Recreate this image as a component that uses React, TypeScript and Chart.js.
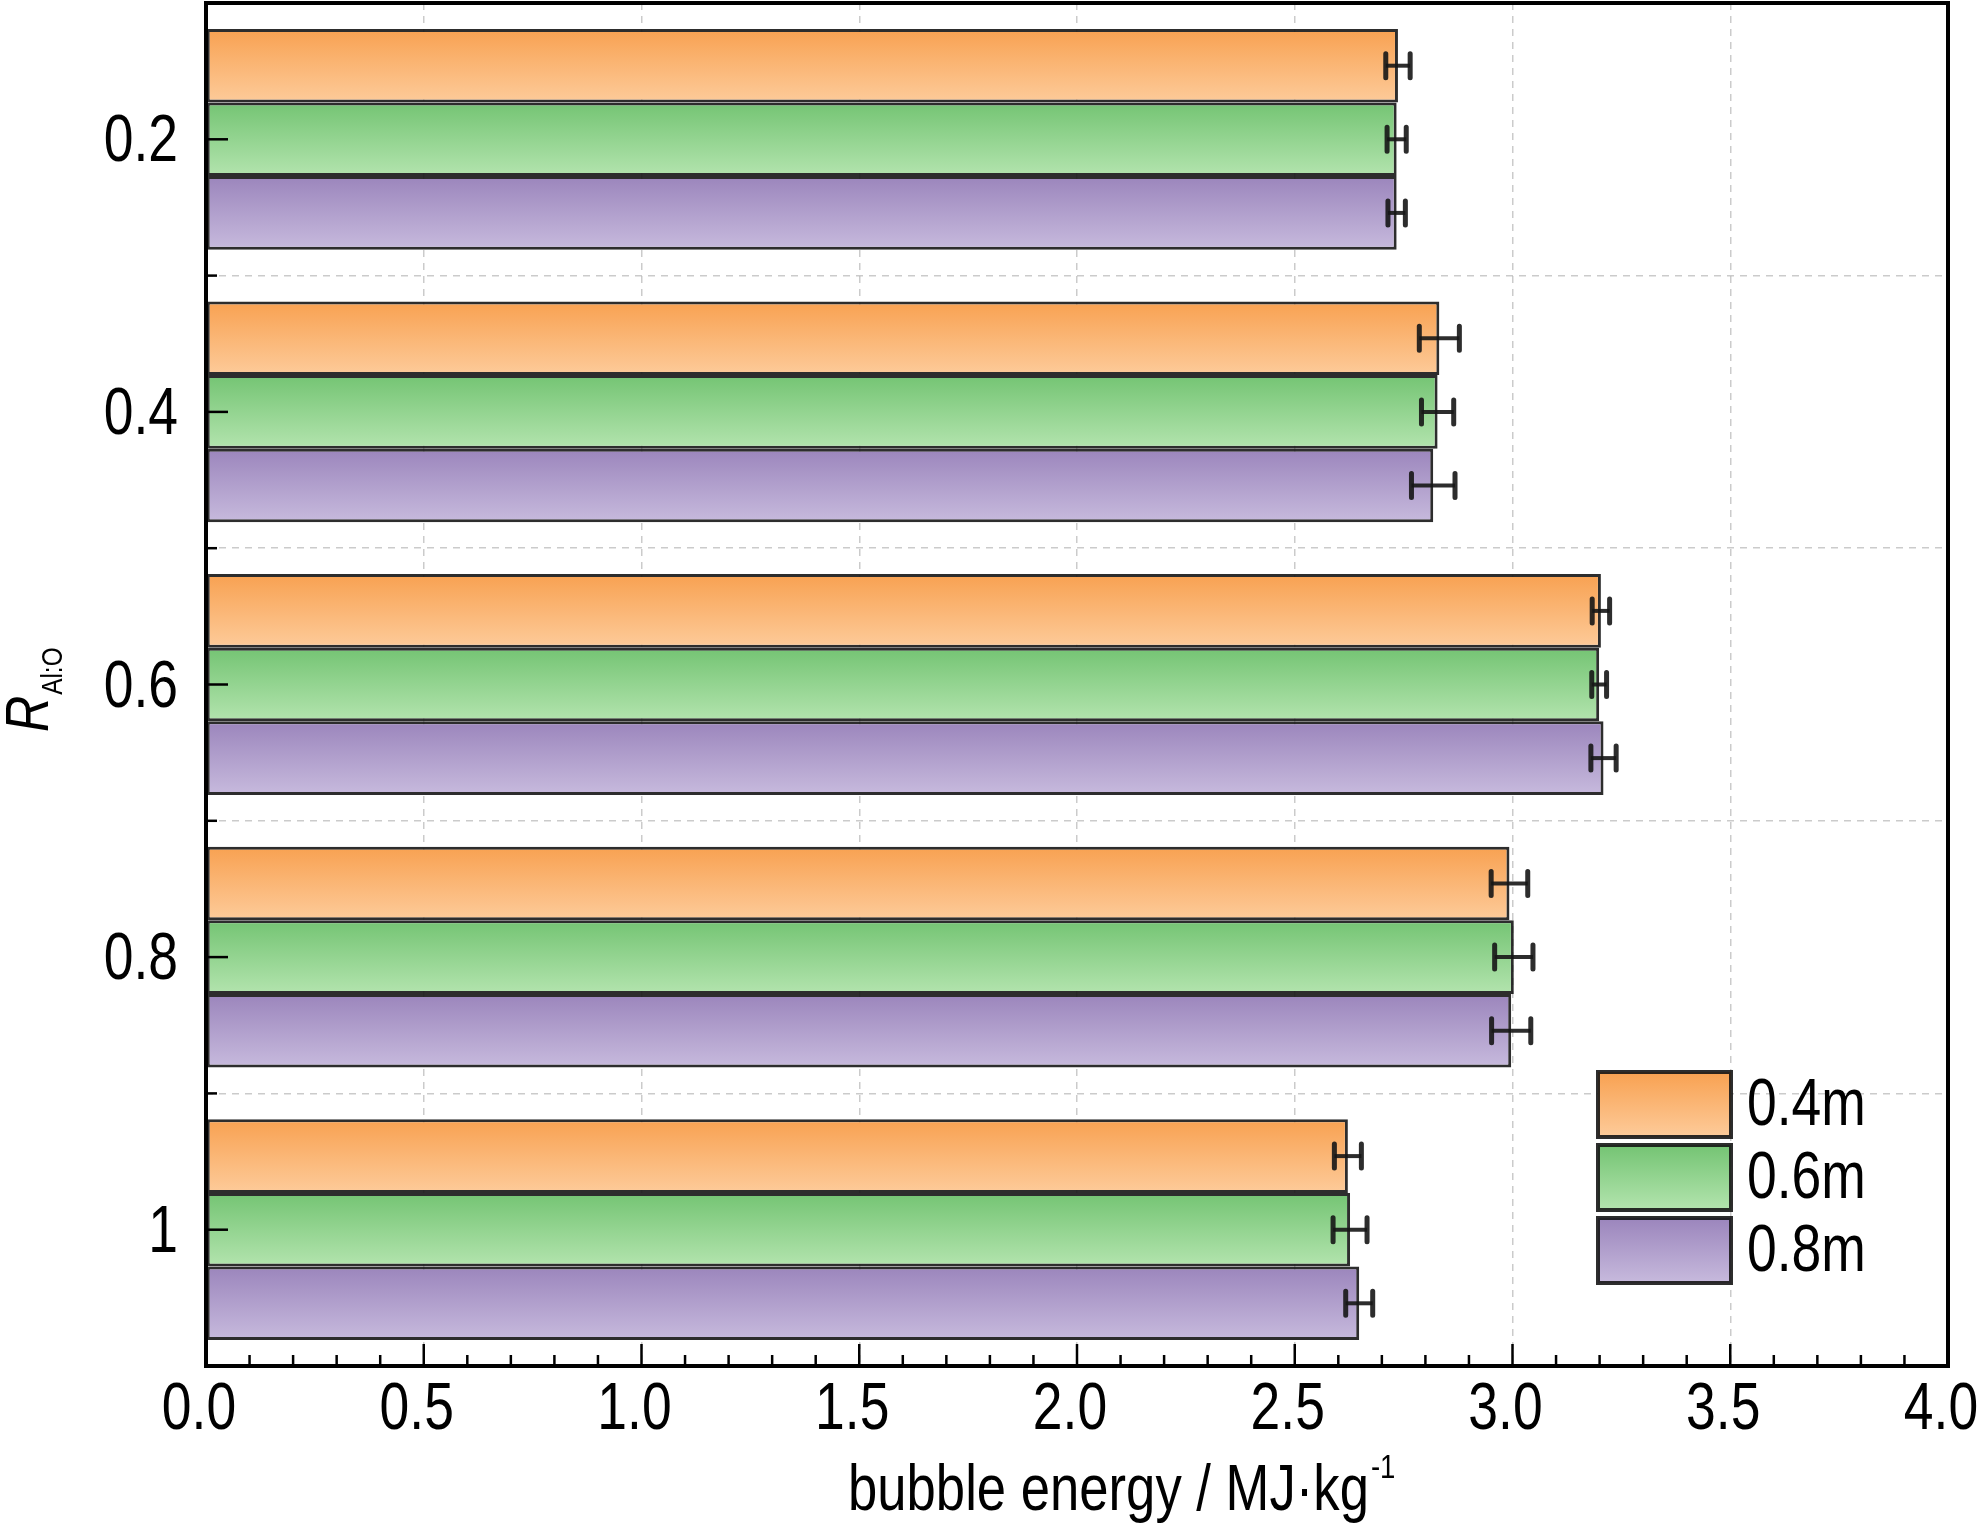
import React, { useEffect, useRef } from "react"
import { Chart, registerables } from "chart.js"

Chart.register(...registerables)

// R(Al:O) categories, top to bottom
const categories = ["0.2", "0.4", "0.6", "0.8", "1"]
const seriesLabels = ["0.4m", "0.6m", "0.8m"]

// bubble energy, MJ/kg
const energy04 = [2.737, 2.832, 3.203, 2.993, 2.622]
const energy06 = [2.734, 2.828, 3.199, 3.003, 2.627]
const energy08 = [2.734, 2.818, 3.209, 2.997, 2.648]

// error bar half widths
const err04 = [0.028, 0.046, 0.02, 0.042, 0.031]
const err06 = [0.022, 0.037, 0.017, 0.044, 0.039]
const err08 = [0.02, 0.05, 0.029, 0.045, 0.031]

const xTicks = [0, 0.5, 1, 1.5, 2, 2.5, 3, 3.5, 4]

const gradTop = ["#F8A151", "#74C473", "#9B85BC"]
const gradBottom = ["#FDCB9A", "#B3E4AE", "#C7BADD"]

const FAMILY = '"Liberation Sans", Arial, sans-serif'
const NARROW = 0.81 // fake Arial Narrow by squeezing Liberation Sans
const edge = "rgba(22,22,22,0.9)"

const makeGrad = (ctx: CanvasRenderingContext2D, top: number, bottom: number, i: number) => {
  const g = ctx.createLinearGradient(0, top, 0, bottom)
  g.addColorStop(0, gradTop[i])
  g.addColorStop(1, gradBottom[i])
  return g
}

const barFill = (i: number) => (c: any) => {
  const el = c.element as any
  if (!el || el.height == null || !isFinite(el.y) || !isFinite(el.height)) return gradTop[i]
  return makeGrad(c.chart.ctx, el.y - el.height / 2, el.y + el.height / 2, i)
}

// narrow text helper
const text = (
  ctx: CanvasRenderingContext2D,
  s: string,
  x: number,
  y: number,
  size: number,
  align: CanvasTextAlign = "left",
  style = "",
) => {
  ctx.save()
  ctx.translate(x, y)
  ctx.scale(NARROW, 1)
  ctx.font = `${style}${size}px ${FAMILY}`
  ctx.textAlign = align
  ctx.textBaseline = "alphabetic"
  ctx.fillStyle = "#000"
  ctx.fillText(s, 0, 0)
  const w = ctx.measureText(s).width * NARROW
  ctx.restore()
  return w
}

const errorBars = {
  id: "errorBars",
  afterDatasetsDraw(chart: any) {
    const { ctx } = chart
    const xs = chart.scales.x
    const errs = [err04, err06, err08]
    ctx.save()
    ctx.strokeStyle = edge
    chart.data.datasets.forEach((ds: any, i: number) => {
      const meta = chart.getDatasetMeta(i)
      meta.data.forEach((el: any, j: number) => {
        const v = ds.data[j]
        const x1 = xs.getPixelForValue(v - errs[i][j])
        const x2 = xs.getPixelForValue(v + errs[i][j])
        const y = el.y
        ctx.lineWidth = 4
        ctx.beginPath()
        ctx.moveTo(x1, y)
        ctx.lineTo(x2, y)
        ctx.stroke()
        ctx.lineWidth = 5
        ctx.lineCap = "round"
        ctx.beginPath()
        ctx.moveTo(x1, y - 12)
        ctx.lineTo(x1, y + 12)
        ctx.moveTo(x2, y - 12)
        ctx.lineTo(x2, y + 12)
        ctx.stroke()
        ctx.lineCap = "butt"
      })
    })
    ctx.restore()
  },
}

const decorations = {
  id: "decorations",
  afterDraw(chart: any) {
    const { ctx, chartArea: a } = chart
    const xs = chart.scales.x
    const ys = chart.scales.y
    ctx.save()
    ctx.strokeStyle = "#000"
    ctx.lineWidth = 2.5

    // inward ticks on x axis
    for (let k = 0; k <= 40; k++) {
      const x = xs.getPixelForValue(k / 10)
      const len = k % 5 === 0 ? 22 : 11
      ctx.beginPath()
      ctx.moveTo(x, a.bottom)
      ctx.lineTo(x, a.bottom - len)
      ctx.stroke()
    }
    // inward ticks on y axis
    categories.forEach((_, j) => {
      const y = ys.getPixelForValue(j)
      ctx.beginPath()
      ctx.moveTo(a.left, y)
      ctx.lineTo(a.left + 22, y)
      ctx.stroke()
      if (j < categories.length - 1) {
        const yb = ys.getPixelForValue(j + 0.5)
        ctx.beginPath()
        ctx.moveTo(a.left, yb)
        ctx.lineTo(a.left + 11, yb)
        ctx.stroke()
      }
    })

    // frame
    ctx.lineWidth = 4
    ctx.strokeRect(a.left, a.top, a.right - a.left, a.bottom - a.top)

    // tick labels from the scales
    xs.ticks.forEach((t: any) => {
      text(ctx, String(t.label), xs.getPixelForValue(t.value) - 7, a.bottom + 63, 66, "center")
    })
    ys.ticks.forEach((t: any, j: number) => {
      text(ctx, String(t.label), a.left - 28, ys.getPixelForValue(j) + 22, 66, "right")
    })

    // legend
    const boxX = 1598
    const boxW = 133
    const boxH = 65
    seriesLabels.forEach((lab, i) => {
      const top = 1072 + i * 73
      ctx.fillStyle = makeGrad(ctx, top, top + boxH, i)
      ctx.fillRect(boxX, top, boxW, boxH)
      ctx.strokeStyle = edge
      ctx.lineWidth = 4
      ctx.strokeRect(boxX, top, boxW, boxH)
      text(ctx, lab, 1747, top + boxH / 2 + 20, 66)
    })

    // x title with superscript
    const mw = text(ctx, "bubble energy / MJ\u00b7kg", 848, 1510, 65)
    text(ctx, "-1", 848 + mw + 2, 1478, 34)

    // y title, rotated, italic R with subscript
    ctx.save()
    ctx.translate(48, 732)
    ctx.rotate(-Math.PI / 2)
    const rw = text(ctx, "R", 0, 0, 62, "left", "italic ")
    text(ctx, "Al:O", rw + 1, 14, 30)
    ctx.restore()

    ctx.restore()
  },
}

const BubbleChart: React.FC = () => {
  const chartRef = useRef<HTMLCanvasElement | null>(null)

  useEffect(() => {
    document.body.style.margin = "0"
    if (!chartRef.current) return
    const ctx = chartRef.current.getContext("2d")
    if (!ctx) return

    const gridColor = "rgba(185,185,185,0.75)"
    const chart = new Chart(ctx, {
      type: "bar",
      data: {
        labels: categories,
        datasets: [energy04, energy06, energy08].map((d, i) => ({
          label: seriesLabels[i],
          data: d,
          backgroundColor: barFill(i),
          borderColor: edge,
          borderWidth: 3,
          borderSkipped: false,
          categoryPercentage: 0.81,
          barPercentage: 1,
        })),
      },
      options: {
        indexAxis: "y",
        animation: false,
        responsive: true,
        maintainAspectRatio: false,
        layout: { padding: { top: 3, right: 35, left: 0, bottom: 0 } },
        plugins: {
          legend: { display: false },
          tooltip: { enabled: false },
        },
        scales: {
          x: {
            type: "linear",
            min: 0,
            max: 4,
            z: 1,
            afterBuildTicks: (s: any) => {
              s.ticks = xTicks.map((v) => ({ value: v }))
            },
            afterFit: (s: any) => {
              s.height = 159
              s.paddingLeft = 0
              s.paddingRight = 0
            },
            ticks: {
              display: false,
              callback: (v: any) => Number(v).toFixed(1),
            },
            grid: { color: gridColor, lineWidth: 1.5, drawTicks: false },
            border: { display: false, dash: [7, 6] },
          },
          y: {
            type: "category",
            z: 1,
            afterFit: (s: any) => {
              s.width = 206
              s.paddingTop = 0
              s.paddingBottom = 0
            },
            ticks: { display: false },
            grid: { color: gridColor, lineWidth: 1.5, drawTicks: false, offset: true },
            border: { display: false, dash: [7, 6] },
          },
        },
      },
      plugins: [errorBars, decorations],
    })
    chart.update()

    return () => {
      chart.destroy()
    }
  }, [])

  return (
    <div style={{ position: "relative", width: "1983px", height: "1525px" }}>
      <canvas ref={chartRef} />
    </div>
  )
}

export default function App() {
  return <BubbleChart />
}
